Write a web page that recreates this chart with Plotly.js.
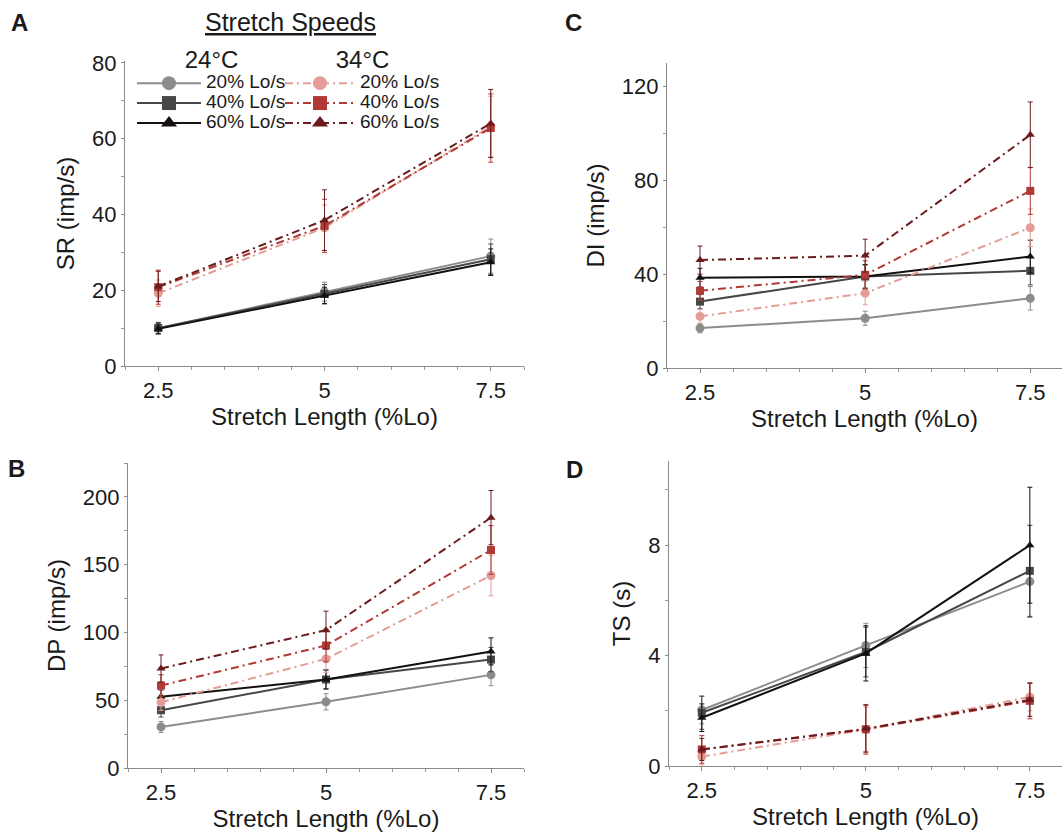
<!DOCTYPE html>
<html><head><meta charset="utf-8">
<script src="https://cdn.plot.ly/plotly-3.0.1.min.js"></script>
<style>html,body{margin:0;padding:0;background:#fff}</style>
</head><body><div id="chart" style="width:1062px;height:832px"></div>
<script>
// ---- data ----
const stretchLength = [2.5, 5, 7.5];
const xTickText = ['2.5', '5', '7.5'];
const speedLabels = ['20% Lo/s', '40% Lo/s', '60% Lo/s'];
const tempLabels = ['24°C', '34°C'];

// rows: 20%, 40%, 60% Lo/s
const sr24 = [[10, 19.6, 29], [10, 19, 28.2], [9.8, 18.6, 27.4]];
const sr24Err = [[1.5, 2.5, 4.5], [1.5, 2.5, 4], [1.3, 2.2, 3.5]];
const sr34 = [[19.2, 36.5, 63.2], [20.8, 37, 62.8], [21, 38.5, 64]];
const sr34Err = [[3.5, 6, 8], [4.5, 7, 9], [4, 8, 9]];

const di24 = [[17, 21.2, 29.7], [28.3, 39, 41.4], [38.5, 39, 47.5]];
const di24Err = [[2, 3, 5], [3, 5, 6], [4, 5, 7]];
const di34 = [[22, 31.9, 59.8], [32.9, 39.7, 75.5], [46, 47.9, 99.4]];
const di34Err = [[3, 5, 8], [4, 6, 10], [6, 7, 14]];

const dp24 = [[30.3, 48.8, 68.7], [42.6, 65.3, 80], [52.5, 65.3, 86]];
const dp24Err = [[4, 6, 8], [5, 7, 9], [5, 7, 10]];
const dp34 = [[48.5, 80.5, 142], [60.8, 90.4, 160.8], [73.4, 101.7, 184.7]];
const dp34Err = [[6, 10, 15], [8, 12, 18], [10, 14, 20]];

const ts24 = [[2.03, 4.37, 6.68], [1.93, 4.13, 7.07], [1.75, 4.08, 8.0]];
const ts24Err = [[0.5, 0.8, 1.3], [0.6, 0.9, 1.65], [0.5, 1.0, 2.1]];
const ts34 = [[0.34, 1.33, 2.5], [0.6, 1.33, 2.36], [0.6, 1.35, 2.4]];
const ts34Err = [[0.3, 0.8, 0.5], [0.5, 0.9, 0.65], [0.4, 0.85, 0.6]];

// ---- styles ----
const colors24 = ['#8c8c8c', '#474747', '#141010'];
const colors34 = ['#e39c96', '#b03a36', '#6b1b1c'];
const symbols = ['circle', 'square', 'triangle-up'];
const dash34 = '8px,4px,2px,4px';
const FONT = 'Liberation Sans, Arial, sans-serif';

const panels = [
  {xa: 'x', ya: 'y', v24: sr24, e24: sr24Err, v34: sr34, e34: sr34Err},
  {xa: 'x2', ya: 'y2', v24: di24, e24: di24Err, v34: di34, e34: di34Err},
  {xa: 'x3', ya: 'y3', v24: dp24, e24: dp24Err, v34: dp34, e34: dp34Err},
  {xa: 'x4', ya: 'y4', v24: ts24, e24: ts24Err, v34: ts34, e34: ts34Err}
];

const traces = [];
panels.forEach(p => {
  [0, 1].forEach(t => {
    const vals = t === 0 ? p.v24 : p.v34;
    const errs = t === 0 ? p.e24 : p.e34;
    const cols = t === 0 ? colors24 : colors34;
    [0, 1, 2].forEach(s => {
      traces.push({
        type: 'scatter', mode: 'lines+markers',
        x: stretchLength, y: vals[s], xaxis: p.xa, yaxis: p.ya,
        name: tempLabels[t] + ' ' + speedLabels[s], showlegend: false,
        line: {color: cols[s], width: 2, dash: t === 0 ? 'solid' : dash34},
        marker: {color: cols[s], symbol: symbols[s], size: s === 0 ? 9 : 8},
        error_y: {type: 'data', array: errs[s], visible: true, color: cols[s], thickness: 1, width: 2.5},
        hoverinfo: 'x+y+name'
      });
    });
  });
});
// legend entries
[0, 1].forEach(t => {
  const cols = t === 0 ? colors24 : colors34;
  [0, 1, 2].forEach(s => {
    traces.push({
      type: 'scatter', mode: 'lines+markers', x: [null], y: [null], xaxis: 'x', yaxis: 'y',
      name: '<span style="font-size:19px">' + speedLabels[s] + '</span>',
      legend: t === 0 ? 'legend' : 'legend2', showlegend: true,
      line: {color: cols[s], width: 2, dash: t === 0 ? 'solid' : dash34},
      marker: {color: cols[s], symbol: symbols[s], size: 14}
    });
  });
});

const W = 1062, H = 832;
function xAxis(left, right, range, anchor) {
  return {
    domain: [left / W, right / W], range: range, anchor: anchor,
    tickmode: 'array', tickvals: stretchLength, ticktext: xTickText,
    ticks: 'outside', ticklen: 4, tickcolor: '#8a8a8a',
    minor: {tick0: 0, dtick: 0.5, ticks: 'outside', ticklen: 3, tickcolor: '#9a9a9a'},
    showline: true, linecolor: '#8a8a8a', linewidth: 1.2,
    showgrid: false, zeroline: false, fixedrange: true,
    tickfont: {size: 22, color: '#1a1a1a', family: FONT},
    title: {text: 'Stretch Length (%Lo)', font: {size: 24, color: '#1a1a1a', family: FONT}, standoff: 0}
  };
}
function yAxis(bottom, top, range, dtick, minor, title, anchor) {
  return {
    domain: [1 - bottom / H, 1 - top / H], range: range, anchor: anchor,
    tick0: 0, dtick: dtick,
    ticks: 'outside', ticklen: 3, tickcolor: '#8a8a8a',
    minor: {tick0: 0, dtick: minor, ticks: 'outside', ticklen: 3, tickcolor: '#9a9a9a'},
    showline: true, linecolor: '#8a8a8a', linewidth: 1.2,
    showgrid: false, zeroline: false, fixedrange: true,
    tickfont: {size: 22, color: '#1a1a1a', family: FONT},
    title: {text: title, font: {size: 24, color: '#1a1a1a', family: FONT}, standoff: 10}
  };
}

const letter = (txt, x, y) => ({
  text: '<b>' + txt + '</b>', x: x / W, y: 1 - y / H, xref: 'paper', yref: 'paper',
  showarrow: false, xanchor: 'center', yanchor: 'middle',
  font: {size: 24, color: '#1a1a1a', family: FONT}
});

const layout = {
  width: W, height: H, margin: {l: 0, r: 0, t: 0, b: 0},
  paper_bgcolor: '#fff', plot_bgcolor: 'rgba(0,0,0,0)',
  font: {family: FONT, color: '#1a1a1a'},
  xaxis: xAxis(125, 524, [2, 8], 'y'),
  yaxis: yAxis(366, 61, [0, 80.5], 20, 10, 'SR (imp/s)', 'x'),
  xaxis2: xAxis(667, 1062, [2, 7.98], 'y2'),
  yaxis2: yAxis(368, 63, [0, 130], 40, 20, 'DI (imp/s)', 'x2'),
  xaxis3: xAxis(128, 524, [2, 8], 'y3'),
  yaxis3: yAxis(768, 463, [0, 225], 50, 25, 'DP (imp/s)', 'x3'),
  xaxis4: xAxis(669, 1062, [2, 7.99], 'y4'),
  yaxis4: yAxis(766, 461, [0, 11.05], 4, 2, 'TS (s)', 'x4'),
  legend: {
    x: 132 / W, y: 1 - 37 / H, xanchor: 'left', yanchor: 'top',
    bgcolor: 'rgba(0,0,0,0)', borderwidth: 0, itemwidth: 64, tracegroupgap: 0,
    font: {size: 13, color: '#1a1a1a', family: FONT},
    title: {text: '24°C', side: 'top center', font: {size: 24, color: '#1a1a1a', family: FONT}},
    itemclick: false, itemdoubleclick: false
  },
  legend2: {
    x: 280 / W, y: 1 - 37 / H, xanchor: 'left', yanchor: 'top',
    bgcolor: 'rgba(0,0,0,0)', borderwidth: 0, itemwidth: 70, tracegroupgap: 0,
    font: {size: 13, color: '#1a1a1a', family: FONT},
    title: {text: '34°C', side: 'top center', font: {size: 24, color: '#1a1a1a', family: FONT}},
    itemclick: false, itemdoubleclick: false
  },
  annotations: [
    letter('A', 19, 22), letter('C', 573, 22), letter('B', 16, 468), letter('D', 574, 469),
    {text: '<u>Stretch Speeds</u>', x: 290 / W, y: 1 - 22 / H, xref: 'paper', yref: 'paper',
     showarrow: false, xanchor: 'center', yanchor: 'middle',
     font: {size: 25, color: '#1a1a1a', family: FONT}}
  ],
  showlegend: true
};

Plotly.newPlot('chart', traces, layout, {displayModeBar: false, staticPlot: true});
</script>
</body></html>
